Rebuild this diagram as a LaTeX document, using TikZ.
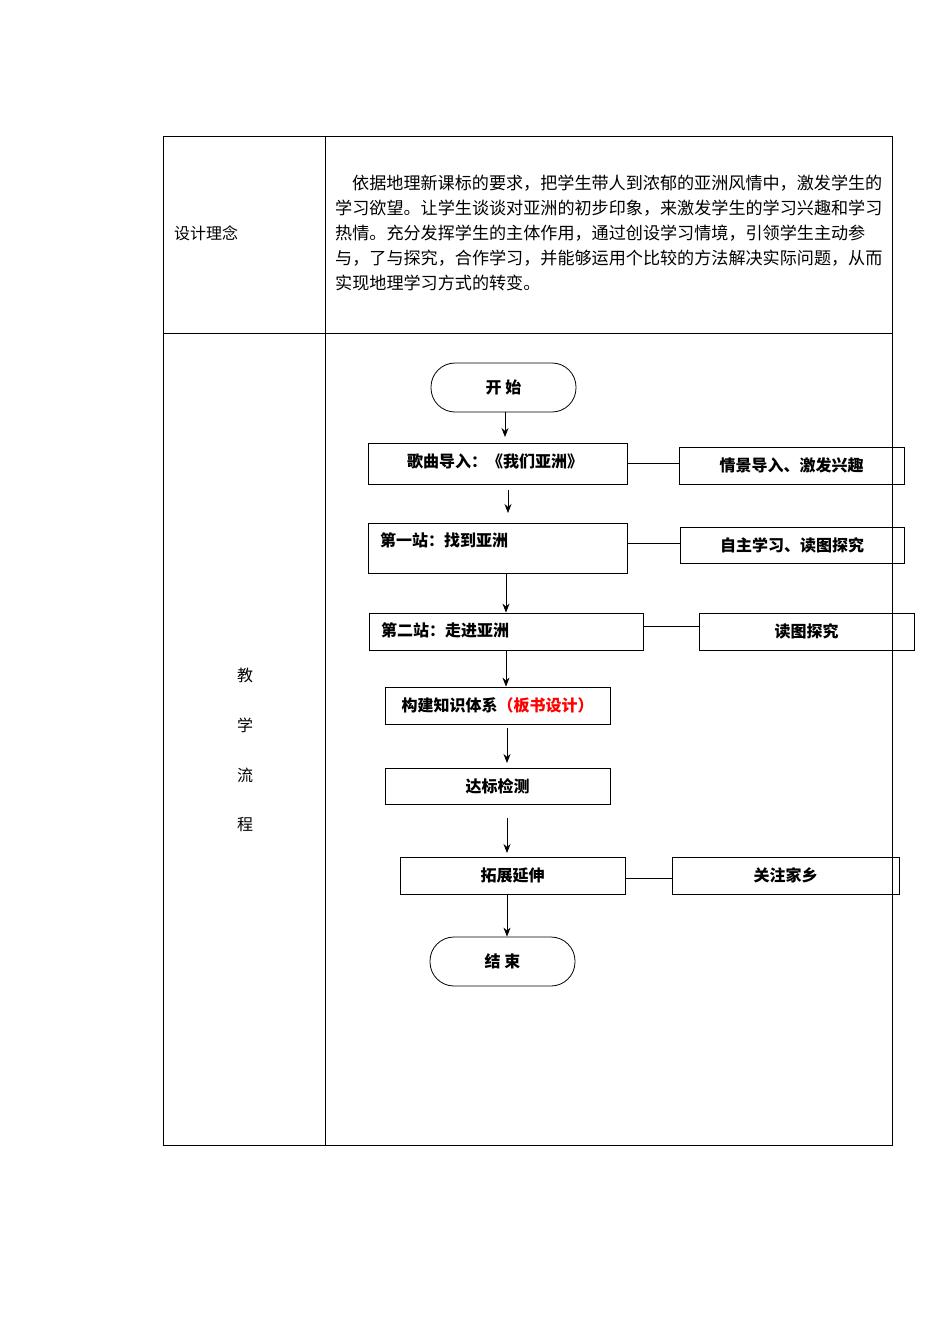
\documentclass[tikz,border=0pt]{standalone}
\usepackage{fontspec}
\setmainfont{Noto Sans CJK SC}
\usetikzlibrary{arrows.meta}
\tikzset{
 pt/.style={font=\fontsize{16}{18}\selectfont, inner sep=0pt},
 pp/.style={font=\fontsize{17.1}{18}\selectfont, inner sep=0pt, anchor=west},
 fb/.style={draw, thick, font=\fontsize{16}{18}\selectfont\bfseries, inner sep=0pt},
 rnd/.style={draw, thick, rounded corners=24pt, font=\fontsize{16}{18}\selectfont\bfseries},
 arr/.style={-{Stealth[length=9pt,width=7pt]}, thick},
 ln/.style={thin}
}
\begin{document}
\begin{tikzpicture}[x=1pt,y=-1pt]
\useasboundingbox (0,0) rectangle (950,1344);
\draw[ln] (163,136) rectangle (892,1145);
\draw[ln] (325,136) -- (325,1145);
\draw[ln] (163,333) -- (892,333);
\node[pt,anchor=west] (lab1) at (174,233) {设计理念};
\node[pp] (p1) at (352,183) {依据地理新课标的要求，把学生带人到浓郁的亚洲风情中，激发学生的};
\node[pp] (p2) at (335,208) {学习欲望。让学生谈谈对亚洲的初步印象，来激发学生的学习兴趣和学习};
\node[pp] (p3) at (335,233) {热情。充分发挥学生的主体作用，通过创设学习情境，引领学生主动参};
\node[pp] (p4) at (335,258) {与，了与探究，合作学习，并能够运用个比较的方法解决实际问题，从而};
\node[pp] (p5) at (335,283) {实现地理学习方式的转变。};
\node[pt] (v1) at (245,675) {教};
\node[pt] (v2) at (245,725) {学};
\node[pt] (v3) at (245,775) {流};
\node[pt] (v4) at (245,825) {程};

\node[rnd,minimum width=145pt,minimum height=49pt] (s) at (503.5,387.5) {开\ 始};
\node[fb,minimum width=259pt,minimum height=41pt] (b1) at (497.5,463.5) {};
\node[font=\fontsize{16}{18}\selectfont\bfseries] at (495,461) {歌曲导入：《我们亚洲》};
\node[fb,minimum width=225pt,minimum height=37pt] (r1) at (791.5,465.5) {情景导入、激发兴趣};
\draw[ln] (627,463) -- (r1.west|-0,463);
\node[fb,minimum width=259pt,minimum height=50pt] (b2) at (497.5,548) {};
\node[font=\fontsize{16}{18}\selectfont\bfseries,anchor=west,inner sep=0pt] at (380,540) {第一站：找到亚洲};
\node[fb,minimum width=224pt,minimum height=36pt] (r2) at (792,545) {自主学习、读图探究};
\draw[ln] (b2.east|-0,543) -- (r2.west|-0,543);
\node[fb,minimum width=274pt,minimum height=37pt] (b3) at (506,631.5) {};
\node[font=\fontsize{16}{18}\selectfont\bfseries,anchor=west,inner sep=0pt] at (381,630) {第二站：走进亚洲};
\node[fb,minimum width=215pt,minimum height=37pt] (r3) at (806.5,631.5) {读图探究};
\draw[ln] (b3.east|-0,626) -- (r3.west|-0,626);
\node[fb,minimum width=225pt,minimum height=37pt] (b4) at (497.5,705.5) {构建知识体系\textcolor{red}{（板书设计）}};
\node[fb,minimum width=225pt,minimum height=36pt] (b5) at (497.5,786) {达标检测};
\node[fb,minimum width=225pt,minimum height=37pt] (b6) at (512.5,875.5) {拓展延伸};
\node[fb,minimum width=227pt,minimum height=37pt] (r6) at (785.5,875.5) {关注家乡};
\draw[ln] (b6.east|-0,878) -- (r6.west|-0,878);
\node[rnd,minimum width=145pt,minimum height=49pt] (e) at (502.5,961.5) {结\ 束};

\draw[arr] (s.south-|505,0) -- (505,437);
\draw[arr] (508,490) -- (508,513);
\draw[arr] (b2.south-|506,0) -- (b3.north-|506,0);
\draw[arr] (b3.south-|506,0) -- (b4.north-|506,0);
\draw[arr] (507,728) -- (507,763);
\draw[arr] (507,818) -- (507,853);
\draw[arr] (b6.south-|507,0) -- (e.north-|507,0);
\end{tikzpicture}
\end{document}
